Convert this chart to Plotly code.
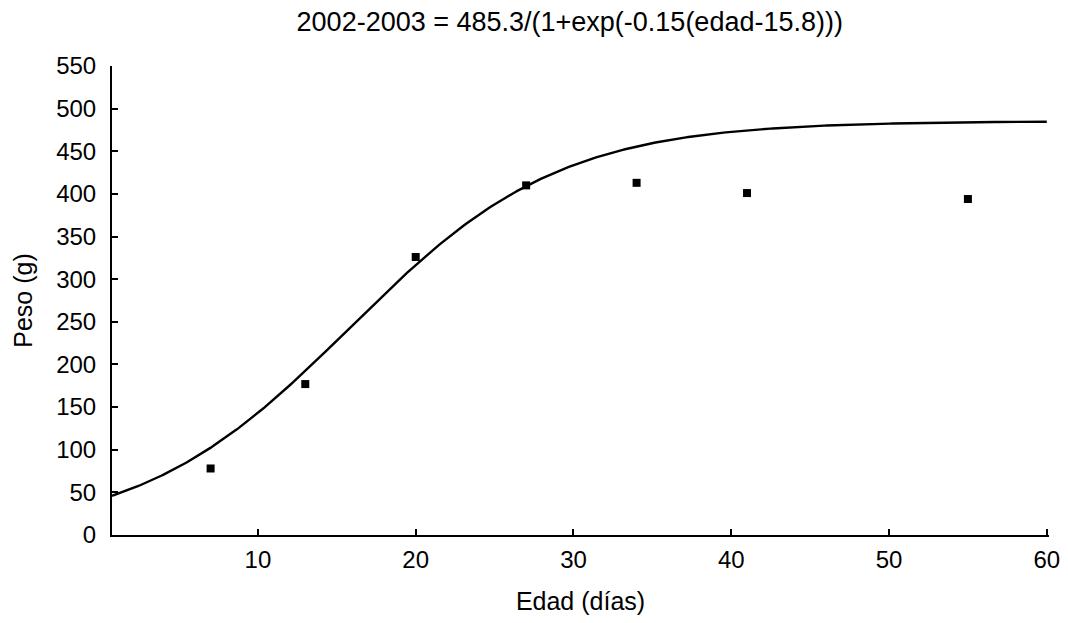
import numpy as np
import plotly.graph_objects as go

edad = [7, 13, 20, 27, 34, 41, 55]
peso = [78, 177, 326, 410, 413, 401, 394]

# Fitted logistic model parameters (from the title)
A = 485.3
k = 0.15
x0 = 15.8

x_ticks = [10, 20, 30, 40, 50, 60]
y_ticks = [0, 50, 100, 150, 200, 250, 300, 350, 400, 450, 500, 550]

x_fit = np.linspace(0.75, 60, 400)
y_fit = A / (1 + np.exp(-k * (x_fit - x0)))

font = "Liberation Sans, Arial, sans-serif"

fig = go.Figure()
fig.add_trace(go.Scatter(x=x_fit, y=y_fit, mode="lines",
                         line=dict(color="black", width=2.4), showlegend=False,
                         hoverinfo="skip"))
fig.add_trace(go.Scatter(x=edad, y=peso, mode="markers",
                         marker=dict(symbol="square", size=8, color="black"),
                         showlegend=False))

fig.update_layout(
    width=1052, height=607,
    margin=dict(l=104, r=11, t=58, b=80, autoexpand=False),
    paper_bgcolor="white", plot_bgcolor="white",
    font=dict(family=font, size=24, color="black"),
    title=dict(text="2002-2003 = 485.3/(1+exp(-0.15(edad-15.8)))",
               x=0.534, xanchor="center", y=0.978, yanchor="middle",
               font=dict(size=27, family=font, color="black")),
    xaxis=dict(range=[0.75, 60.14], tickvals=x_ticks, ticktext=[str(v) for v in x_ticks],
               showgrid=False, zeroline=False, showline=True, linecolor="black",
               linewidth=2, ticks="inside", ticklen=6, tickwidth=1.5, tickcolor="black",
               tickfont=dict(size=24), ticklabelstandoff=2, ticklabeloverflow="allow",
               automargin=True,
               title=dict(text="Edad (días)", standoff=22, font=dict(size=25))),
    yaxis=dict(range=[0, 550], tickvals=y_ticks, ticktext=[str(v) for v in y_ticks],
               showgrid=False, zeroline=False, showline=True, linecolor="black",
               linewidth=2, ticks="inside", ticklen=6, tickwidth=1.5, tickcolor="black",
               tickfont=dict(size=24), ticklabelstandoff=9, automargin=False,
               title=dict(text="Peso (g)", standoff=16, font=dict(size=25))),
)

fig.write_html("out.html")
